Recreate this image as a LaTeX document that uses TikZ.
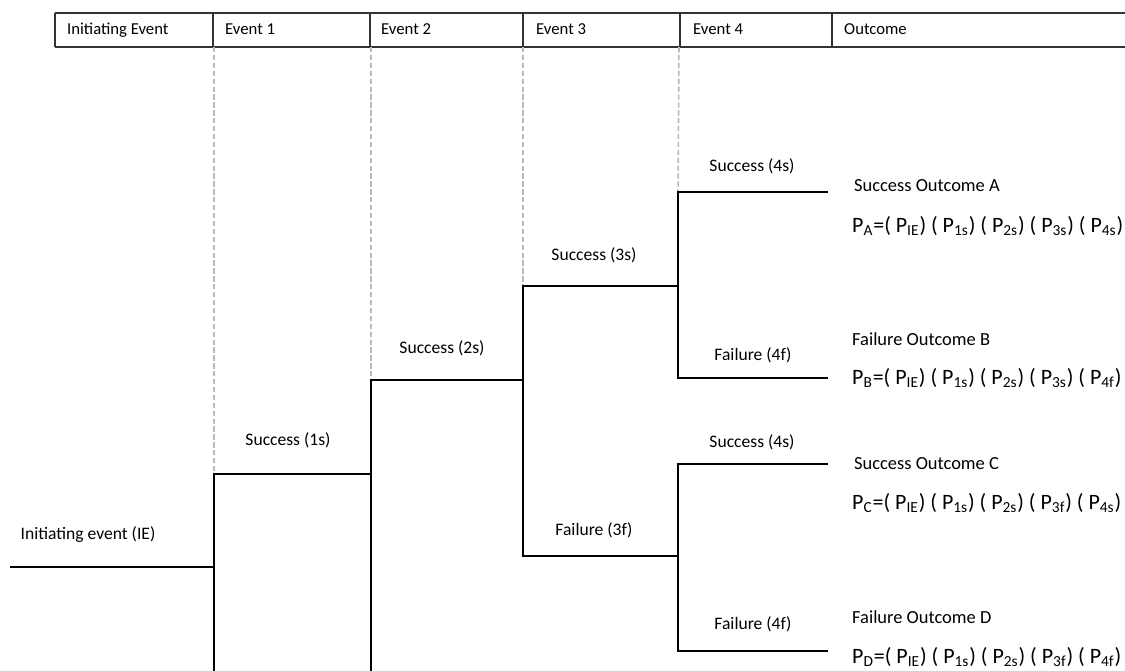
\documentclass[tikz,border=0pt]{standalone}
\usepackage{fontspec}
\setmainfont{Carlito}
\usetikzlibrary{positioning}

\begin{document}
\begin{tikzpicture}[
    x=0.02cm, y=-0.02cm,
    branch/.style={%
      line width=1.5pt,
    },
    guide/.style={%
      gray!55, line width=0.9pt, dash pattern=on 3pt off 1.5pt,
    },
    frame/.style={%
      line width=0.7pt, black!80,
    },
    head/.style={anchor=base west, font=\fontsize{9.5}{11}\selectfont},
    lbl/.style={anchor=base, font=\fontsize{10}{12}\selectfont},
    outcome/.style={anchor=west, font=\fontsize{10.5}{12}\selectfont},
    prob/.style={anchor=west, font=\fontsize{12.5}{14}\selectfont},
  ]
    \useasboundingbox (0,0) rectangle (1125,671);

    % header row
    \draw [frame] (55,13) -- (1140,13) (55,47) -- (1140,47) (55,13) -- (55,47);
    \foreach \x in {213,370,523,680,832}
      \draw [frame] (\x,13) -- (\x,47);
    \node [head] (hIE) at (61,35) {Initiating Event};
    \node [head] (hE1) at (219,35) {Event 1};
    \node [head] (hE2) at (375,35) {Event 2};
    \node [head] (hE3) at (530,35) {Event 3};
    \node [head] (hE4) at (687,35) {Event 4};
    \node [head] (hOut) at (838,35) {Outcome};

    % fork points and branch ends
    \coordinate (IE) at (10,567);
    \coordinate (F1) at (214,567);
    \coordinate (F2) at (371,474);
    \coordinate (F3) at (523,380);
    \coordinate (F4a) at (678,286);
    \coordinate (F4b) at (678,556);
    \coordinate (A) at (828,192);
    \coordinate (B) at (828,378);
    \coordinate (C) at (828,464);
    \coordinate (D) at (828,651);
    \coordinate (bot1) at (214,690);
    \coordinate (bot2) at (371,690);

    % dashed guides
    \draw [guide] (214,47) -- (F1 |- F2);
    \draw [guide] (371,47) -- (F2 |- F3);
    \draw [guide] (523,47) -- (F3 |- F4a);
    \draw [guide] (679,47) -- (F4a |- A);

    % tree
    \draw [branch] (IE) -- (F1);
    \draw [branch] (bot1) -- (F1) |- (F2);
    \draw [branch] (bot2) -- (F2) |- (F3);
    \draw [branch] (F3) |- (F4a);
    \draw [branch] (F3) |- (F4b);
    \draw [branch] (F4a) |- (A);
    \draw [branch] (F4a) |- (B);
    \draw [branch] (F4b) |- (C);
    \draw [branch] (F4b) |- (D);

    % branch labels
    \node [lbl] (lIE) at (88,540) {Initiating event (IE)};
    \node [lbl] (l1s) at (288,446) {Success (1s)};
    \node [lbl] (l2s) at (442,354) {Success (2s)};
    \node [lbl] (l3s) at (594,261) {Success (3s)};
    \node [lbl] (l3f) at (594,536) {Failure (3f)};
    \node [lbl] (l4sA) at (752,172) {Success (4s)};
    \node [lbl] (l4fB) at (753,361) {Failure (4f)};
    \node [lbl] (l4sC) at (752,448) {Success (4s)};
    \node [lbl] (l4fD) at (753,629) {Failure (4f)};

    % outcomes
    \node [outcome] (oA) at (848,186) {Success Outcome A};
    \node [prob] (pA) at (846,226) {P\textsubscript{A}=( P\textsubscript{IE}) ( P\textsubscript{1s}) ( P\textsubscript{2s}) ( P\textsubscript{3s}) ( P\textsubscript{4s})};
    \node [outcome] (oB) at (846,339) {Failure Outcome B};
    \node [prob] (pB) at (846,378) {P\textsubscript{B}=( P\textsubscript{IE}) ( P\textsubscript{1s}) ( P\textsubscript{2s}) ( P\textsubscript{3s}) ( P\textsubscript{4f})};
    \node [outcome] (oC) at (848,464) {Success Outcome C};
    \node [prob] (pC) at (846,503) {P\textsubscript{C}=( P\textsubscript{IE}) ( P\textsubscript{1s}) ( P\textsubscript{2s}) ( P\textsubscript{3f}) ( P\textsubscript{4s})};
    \node [outcome] (oD) at (846,617) {Failure Outcome D};
    \node [prob] (pD) at (846,657) {P\textsubscript{D}=( P\textsubscript{IE}) ( P\textsubscript{1s}) ( P\textsubscript{2s}) ( P\textsubscript{3f}) ( P\textsubscript{4f})};
\end{tikzpicture}
\end{document}
